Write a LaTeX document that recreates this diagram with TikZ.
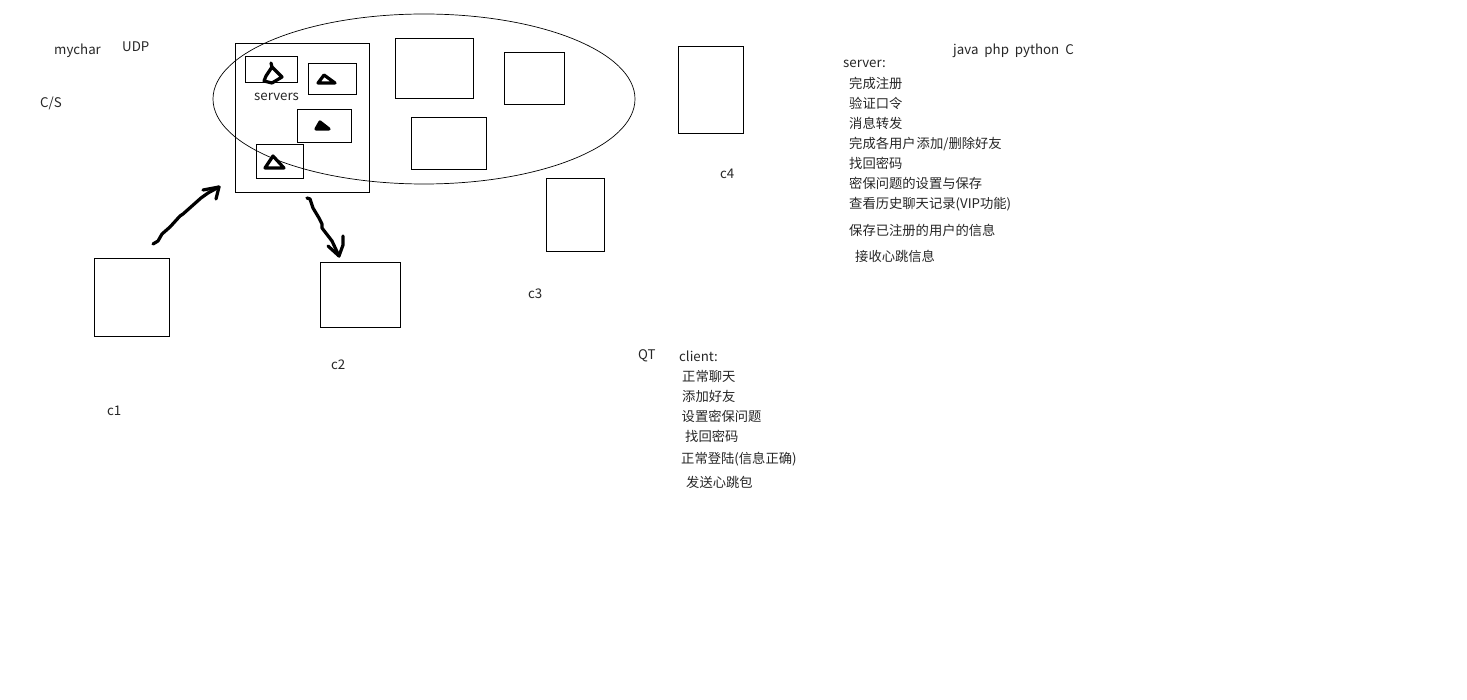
\documentclass[tikz,border=0pt]{standalone}
\usepackage{fontspec}
\setmainfont{Noto Sans CJK SC}
\usetikzlibrary{positioning}
\usetikzlibrary{shapes.geometric}
\tikzset{
	rectnode/.style={rectangle, draw=black, line width=0.9pt, inner sep=0pt},
	roundnode/.style={ellipse, draw=black, line width=0.7pt, inner sep=0pt},
	label1/.style={inner sep=0pt, anchor=west, font=\fontsize{13.3}{16}\selectfont, text=black!85},
	handstroke/.style={line width=3.2pt, line cap=round, line join=round, black}
}
\begin{document}
\begin{tikzpicture}[x=1pt,y=-1pt]
		\useasboundingbox (0,0) rectangle (1467,700);
		%boxes
		\node[roundnode, minimum width=422pt, minimum height=170pt] at (424,99) (cloud) {};
		\node[rectnode, minimum width=134pt, minimum height=149pt] at (302,117.5) (servers) {};
		\node[rectnode, minimum width=52pt, minimum height=26pt] at (271,69) (s1) {};
		\node[rectnode, minimum width=48pt, minimum height=31pt] at (332.5,79) (s2) {};
		\node[rectnode, minimum width=54pt, minimum height=33pt] at (324.5,126) (s3) {};
		\node[rectnode, minimum width=47pt, minimum height=34pt] at (280,161) (s4) {};
		\node[rectnode, minimum width=78pt, minimum height=60pt] at (434,68) (b1) {};
		\node[rectnode, minimum width=60pt, minimum height=52pt] at (534,78) (b2) {};
		\node[rectnode, minimum width=75pt, minimum height=52pt] at (448.5,143) (b3) {};
		\node[rectnode, minimum width=58pt, minimum height=73pt] at (575,214.5) (c3box) {};
		\node[rectnode, minimum width=65pt, minimum height=87pt] at (710.5,89.5) (c4box) {};
		\node[rectnode, minimum width=75pt, minimum height=78pt] at (131.5,297) (c1box) {};
		\node[rectnode, minimum width=80pt, minimum height=65pt] at (360,294.5) (c2box) {};
		%labels
		\node[label1] at (54,51) (mychar) {mychar};
		\node[label1] at (122,47) (udp) {UDP};
		\node[label1] at (40,103) (cs) {C/S};
		\node[label1] at (254,97) (srv) {servers};
		\node[label1] at (720,174) (c4) {c4};
		\node[label1] at (528,294) (c3) {c3};
		\node[label1] at (331,365) (c2) {c2};
		\node[label1] at (107,411) (c1) {c1};
		\node[label1] at (638,356) (qt) {QT};
		%server list
		\node[label1] at (953,50.5) (langs) {java\ \ php\ \ python\ \ C};
		\node[label1] at (843,64) (srvhead) {server:};
		\node[label1] at (849,83) (sa) {完成注册};
		\node[label1] at (849,103) (sb) {验证口令};
		\node[label1] at (849,123) (sc) {消息转发};
		\node[label1] at (849,144) (sd) {完成各用户\hspace{1pt}添加/删除好友};
		\node[label1] at (849,163) (se) {找回密码};
		\node[label1] at (849,183) (sf) {密保问题的设置与保存};
		\node[label1] at (849,204) (sg) {查看历史聊天记录(VIP功能)};
		\node[label1] at (849,230) (sh) {保存已注册的用户的信息};
		\node[label1] at (855,256) (si) {接收心跳信息};
		%client list
		\node[label1] at (679,356.5) (clhead) {client:};
		\node[label1] at (682,376) (ca) {正常聊天};
		\node[label1] at (682,396) (cb) {添加好友};
		\node[label1] at (681.5,416) (cc) {设置密保问题};
		\node[label1] at (685,436) (cd) {找回密码};
		\node[label1] at (681,459) (ce) {正常登陆(信息正确)};
		\node[label1] at (686,482) (cf) {发送心跳包};
		%strokes
		\coordinate (uptail) at (153,244);
		\coordinate (uptip) at (219,187);
		\coordinate (downtail) at (307,198);
		\coordinate (downtip) at (339,256);
		\draw[handstroke] (uptail) -- (158,241) -- (162,234) -- (170,227) -- (180,216) -- (183,214) -- (192,206) -- (201,198) -- (208,193) -- (uptip);
		\draw[handstroke] (203,190) -- (uptip) -- (216,199);
		\draw[handstroke] (downtail) -- (310,199) -- (313,208) -- (319,218) -- (322,224) -- (322,228) -- (332,241) -- (downtip);
		\draw[handstroke] (328,246) -- (downtip) -- (343,245) -- (343,236);
		%triangles
		\draw[handstroke] (271,63) -- (272,67) -- (266,76) -- (264,81) -- (272,83) -- (282,77) -- (272,67);
		\draw[handstroke] (324,75) -- (318,83) -- (335,83) -- cycle;
		\draw[handstroke, fill=black] (320,122) -- (316,129) -- (329,129) -- cycle;
		\draw[handstroke] (273,156) -- (265,168) -- (284,168) -- cycle;
	\end{tikzpicture}
\end{document}
